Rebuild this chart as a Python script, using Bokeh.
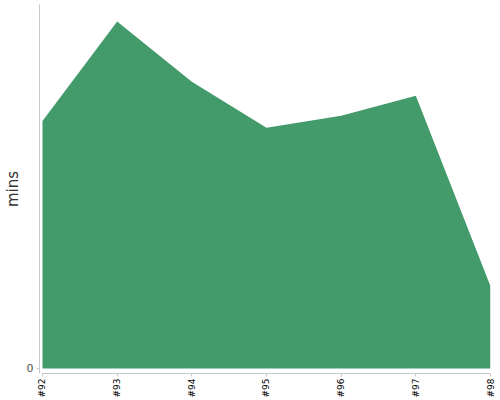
import math
from bokeh.plotting import figure
from bokeh.models import Range1d, FixedTicker
from bokeh.embed import file_html
from bokeh.resources import INLINE

categories = ["#92", "#93", "#94", "#95", "#96", "#97", "#98"]
mins = [68, 95.3, 78.8, 66.1, 69.4, 74.9, 22.6]
y_ticks = [0]

xs = list(range(len(categories)))

p = figure(width=500, height=400, output_backend="svg", toolbar_location=None,
           x_range=Range1d(-0.04, len(categories) - 1), y_range=Range1d(-1.4, 100),
           min_border_left=30, min_border_right=10, min_border_top=4, min_border_bottom=0)
p.outline_line_color = None
p.xgrid.visible = False
p.ygrid.visible = False
p.background_fill_color = "white"

p.varea(x=xs, y1=[0] * len(xs), y2=mins, fill_color="#439B6C", fill_alpha=1.0)

font = "DejaVu Sans"
xa = p.xaxis[0]
xa.ticker = FixedTicker(ticks=xs)
xa.major_label_overrides = {i: c for i, c in enumerate(categories)}
xa.major_label_orientation = math.pi / 2
xa.bounds = (0, len(categories) - 1)
xa.axis_line_color = "#c8c8c8"
xa.major_tick_line_color = "#c8c8c8"
xa.major_tick_out = 3
xa.major_tick_in = 0
xa.minor_tick_line_color = None
xa.major_label_text_font = font
xa.major_label_text_font_size = "9px"
xa.major_label_text_color = "#000000"
xa.major_label_text_line_height = 1.0
xa.major_label_standoff = 2
xa.axis_label_standoff = 0

ya = p.yaxis[0]
ya.ticker = FixedTicker(ticks=y_ticks)
ya.axis_line_color = "#c8c8c8"
ya.major_tick_line_color = "#c8c8c8"
ya.major_tick_out = 3
ya.major_tick_in = 0
ya.minor_tick_line_color = None
ya.major_label_text_font = font
ya.major_label_text_font_size = "11px"
ya.major_label_text_color = "#555555"
ya.major_label_standoff = 3
ya.axis_label = "mins"
ya.axis_label_text_font = font
ya.axis_label_text_font_size = "15px"
ya.axis_label_text_font_style = "normal"
ya.axis_label_text_color = "#333333"
ya.axis_label_standoff = 2

open("out.html", "w").write(file_html(p, INLINE))
